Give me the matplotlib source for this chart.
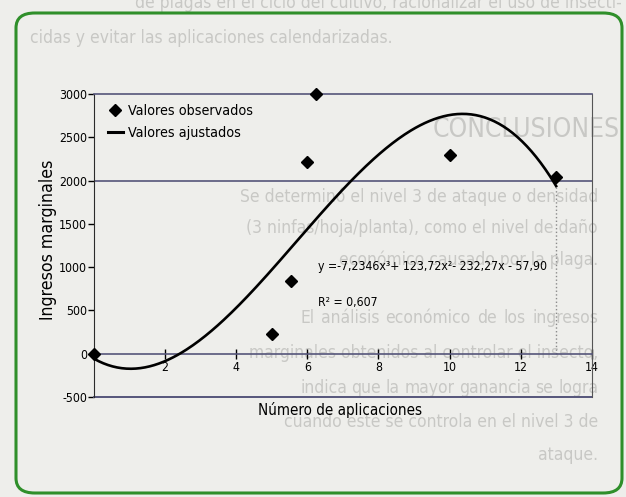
import os
import matplotlib
matplotlib.use("Agg")
import matplotlib.pyplot as plt
from matplotlib.lines import Line2D
from matplotlib.patches import FancyBboxPatch
from matplotlib import font_manager
from matplotlib.font_manager import FontProperties
import numpy as np

# Observed marginal income per number of applications
aplicaciones = [0.0, 5.0, 5.55, 6.0, 6.25, 10.0, 13.0]
ingresos = [0, 225, 840, 2220, 3000, 2290, 2040]

# Fitted cubic: y = a x^3 + b x^2 + c x + d
coeficientes = [-7.2346, 123.72, -232.27, -57.90]
r_cuadrado = 0.607

y_ticks = [-500, 0, 500, 1000, 1500, 2000, 2500, 3000]
x_ticks = [2, 4, 6, 8, 10, 12, 14]

W, H = 626, 497
BG = "#eeeeeb"
GHOST = "#c8c8c5"


def find_narrow_font():
    files = [f.fname for f in font_manager.fontManager.ttflist]
    preferred = ["DejaVuSansCondensed.ttf", "LiberationSansNarrow-Regular.ttf",
                 "NotoSans-Condensed.ttf", "RobotoCondensed-Regular.ttf",
                 "OpenSans-CondensedRegular.ttf", "OpenSans_Condensed-Regular.ttf"]
    for p in preferred:
        for fn in files:
            if os.path.basename(fn) == p:
                return fn
    skip = ["bold", "italic", "oblique", "light", "thin", "black", "medium",
            "semi", "extra", "mono"]
    for fn in files:
        b = os.path.basename(fn).lower()
        if ("condensed" in b or "narrow" in b) and not any(s in b for s in skip):
            return fn
    return None


narrow_file = find_narrow_font()


def fp(size):
    if narrow_file:
        return FontProperties(fname=narrow_file, size=size)
    return FontProperties(family="Liberation Sans", size=size)


fig = plt.figure(figsize=(W / 100, H / 100), dpi=100, facecolor=BG)
renderer = fig.canvas.get_renderer()


def px(x, y):
    return x / W, 1 - y / H


def size_for(text, target_px, base=10.0):
    t = fig.text(0, 0, text, fontproperties=fp(base))
    w = t.get_window_extent(renderer).width
    t.remove()
    return base * target_px / w


# Page text printed around the figure
BODY = size_for("El análisis económico de los ingresos", 290)


def page_line(text, y, x0=None, x1=None, size=BODY):
    kw = dict(color=GHOST, fontproperties=fp(size), va="center",
              transform=fig.transFigure, zorder=-5)
    if x0 is not None and x1 is not None:
        words = text.split()
        arts = [fig.text(0, px(0, y)[1], w, ha="left", **kw) for w in words]
        widths = [a.get_window_extent(renderer).width for a in arts]
        gap = (x1 - x0 - sum(widths)) / max(len(words) - 1, 1)
        x = x0
        for a, w in zip(arts, widths):
            a.set_x(x / W)
            x += w + gap
    elif x0 is not None:
        fig.text(*px(x0, y), text, ha="left", **kw)
    else:
        fig.text(*px(x1, y), text, ha="right", **kw)


page_line("de plagas en el ciclo del cultivo, racionalizar el uso de insecti-", 3, x1=622)
page_line("cidas y evitar las aplicaciones calendarizadas.", 38, x0=30)
page_line("CONCLUSIONES", 130, x0=433, size=size_for("CONCLUSIONES", 187))
page_line("Se determinó el nivel 3 de ataque o densidad", 197, x1=598)
page_line("(3 ninfas/hoja/planta), como el nivel de daño", 228, x1=598)
page_line("económico causado por la plaga.", 260, x1=598)
page_line("El análisis económico de los ingresos", 318, x0=300, x1=598)
page_line("marginales obtenidos al controlar el insecto,", 353, x1=598)
page_line("indica que la mayor ganancia se logra", 388, x0=300, x1=598)
page_line("cuando éste se controla en el nivel 3 de", 422, x1=598)
page_line("ataque.", 455, x1=598)

# Green rounded frame
frame = FancyBboxPatch(px(16, 493), (622 - 16) / W, (493 - 13) / H,
                       boxstyle="round,pad=0,rounding_size=0.03",
                       transform=fig.transFigure, ec="#2f8f2a", fc="none",
                       lw=2.2, zorder=-4)
fig.add_artist(frame)

# Chart
ax = fig.add_axes([94 / W, 1 - 397 / H, 497.7 / W, 303 / H])
ax.set_facecolor("none")
ax.set_xlim(0, 14)
ax.set_ylim(-500, 3000)

GRID = "#55557a"
ax.spines["left"].set_color("#2b2b2b")
ax.spines["right"].set_color("#555555")
ax.spines["top"].set_color(GRID)
ax.spines["top"].set_linewidth(1.2)
ax.spines["bottom"].set_position(("data", 0))
ax.spines["bottom"].set_color(GRID)
ax.spines["bottom"].set_linewidth(1.2)
ax.axhline(-500, color=GRID, lw=1.4, clip_on=False)
ax.axhline(2000, color=GRID, lw=1.2)

tick_size = size_for("3000", 28)
ax.set_yticks(y_ticks)
ax.set_yticklabels([str(v) for v in y_ticks], fontproperties=fp(tick_size))
ax.set_xticks(x_ticks)
ax.set_xticklabels([str(v) for v in x_ticks], fontproperties=fp(tick_size))
ax.tick_params(axis="y", direction="out", length=4, width=1, pad=1)
ax.tick_params(axis="x", direction="inout", length=7, width=1, pad=2)

# Fitted curve and drop line at the last level
xs = np.linspace(0, 13, 300)
ax.plot(xs, np.polyval(coeficientes, xs), color="black", lw=1.9, zorder=3)
ax.plot([13, 13], [0, np.polyval(coeficientes, 13)], ls=":", color="#8a8a8a",
        lw=1, zorder=2)

ax.plot(aplicaciones, ingresos, "D", color="black", ms=6.5, clip_on=False, zorder=4)

a, b, c, d = coeficientes
eq = f"y ={a:.4f}x³+ {b:.2f}x²- {abs(c):.2f}x - {abs(d):.2f}".replace(".", ",")
eq_size = size_for(eq, 230)
ax.text(6.3, 1010, eq, fontproperties=fp(eq_size), va="center", ha="left")
ax.text(6.3, 590, f"R² = {r_cuadrado:.3f}".replace(".", ","),
        fontproperties=fp(eq_size), va="center", ha="left")

handles = [Line2D([], [], marker="D", ls="none", color="black", ms=6),
           Line2D([], [], color="black", lw=2.2)]
ax.legend(handles, ["Valores observados", "Valores ajustados"], loc="upper left",
          bbox_to_anchor=(0.01, 0.995), frameon=False,
          prop=fp(size_for("Valores observados", 125)),
          handlelength=1.1, handletextpad=0.3, labelspacing=0.55,
          borderaxespad=0.2)

ax.set_ylabel("Ingresos marginales",
              fontproperties=fp(size_for("Ingresos marginales", 160)))
ax.yaxis.set_label_coords((57 - 94) / 497.7, 0.52)
ax.set_xlabel("Número de aplicaciones",
              fontproperties=fp(size_for("Número de aplicaciones", 164)))
ax.xaxis.set_label_coords(0.495, -0.015)

fig.savefig("out.png", dpi=100, facecolor=BG)
